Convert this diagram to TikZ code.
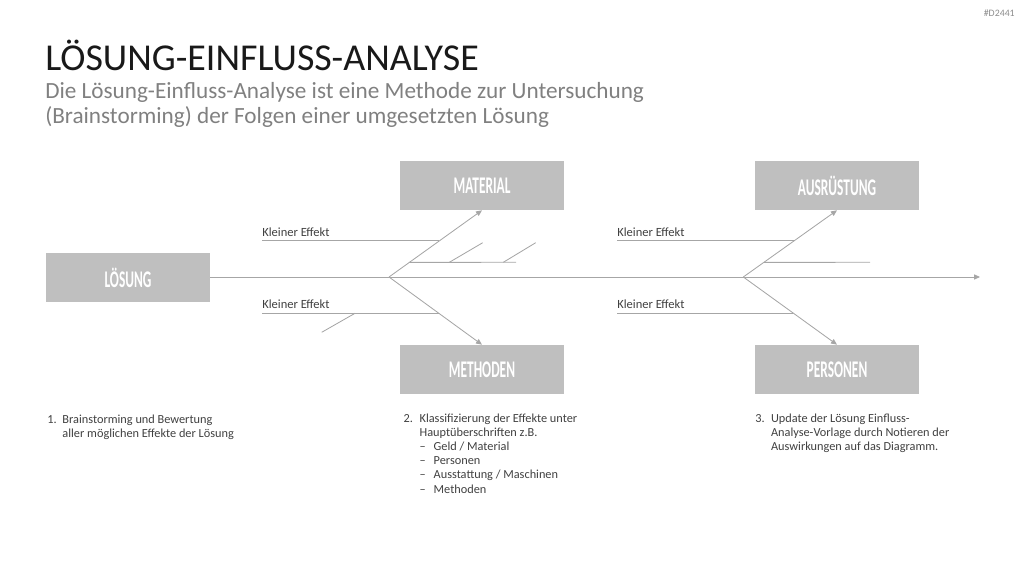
\documentclass[tikz,border=0pt]{standalone}
\usepackage{fontspec}
\setmainfont{Carlito}
\newfontfamily\boxfont[FakeStretch=0.56]{Carlito}
\usepackage{xcolor}
\definecolor{BoxGray}{HTML}{BFBFBF}
\definecolor{LineGray}{HTML}{A6A6A6}
\definecolor{SubGray}{HTML}{808080}
\definecolor{Ink}{HTML}{404040}
\usepackage{tikz}
\usetikzlibrary{arrows.meta}

\begin{document}
\begin{tikzpicture}[x=0.025cm,y=-0.025cm,
    >={Triangle[length=1.5mm,width=1.3mm]},
    box/.style={fill=BoxGray,minimum width=4.1cm,minimum height=1.225cm,inner sep=0pt,
                text=white,font=\boxfont\bfseries\fontsize{17}{17}\selectfont},
    bone/.style={LineGray,line width=0.6pt},   % all fish bones
    lbl/.style={font=\fontsize{8.9}{10}\selectfont,text=Ink,anchor=base west,inner sep=0pt},
    note/.style={font=\fontsize{8.75}{10}\selectfont,text=Ink,anchor=base west,inner sep=0pt},
  ]
  \def\ys{277}     % spine
  \def\yk{262.3}   % short side bones
  \useasboundingbox (0,0) rectangle (1024,576);

  % ---------- heading ----------
  \node[anchor=base east,inner sep=0pt,font=\fontsize{7}{8}\selectfont,text=black!45] (tag) at (1015,17) {\#D2441};
  \node[anchor=base west,inner sep=0pt,font=\fontsize{27}{30}\selectfont,text=black!90] (title) at (45,71) {LÖSUNG-EINFLUSS-ANALYSE};
  \node[anchor=base west,inner sep=0pt,font=\fontsize{16.5}{17.2}\selectfont,text=SubGray] (sub) at (45,99)
    {\begin{tabular}[t]{@{}l@{}}Die Lösung-Einfluss-Analyse ist eine Methode zur Untersuchung\\
     (Brainstorming) der Folgen einer umgesetzten Lösung\end{tabular}};

  % ---------- boxes ----------
  \node[box] (loes) at (128,277.5) {\raisebox{-2.2pt}{LÖSUNG}};
  \node[box] (mat)  at (482,185.5) {\raisebox{-2.2pt}{MATERIAL}};
  \node[box] (meth) at (482,369.5) {\raisebox{-2.2pt}{METHODEN}};
  \node[box] (aus)  at (837,185.5) {\raisebox{-2.2pt}{AUSRÜSTUNG}};
  \node[box] (pers) at (837,369.5) {\raisebox{-2.2pt}{PERSONEN}};

  % ---------- spine ----------
  \coordinate (j1)  at (389,\ys);
  \coordinate (j2)  at (743.3,\ys);
  \coordinate (end) at (980,\ys);
  \draw[bone,->] (loes.east |- j1) -- (end);

  % ---------- effect labels ----------
  \node[lbl] (e1) at (262,236.7) {Kleiner Effekt};
  \node[lbl] (e2) at (262,308.3) {Kleiner Effekt};
  \node[lbl] (e3) at (617,236.7) {Kleiner Effekt};
  \node[lbl] (e4) at (617,308.3) {Kleiner Effekt};

  % ---------- left bones ----------
  \draw[bone,->] (j1) -- coordinate[pos=0.219] (m1) coordinate[pos=0.542] (m2) (mat.south);
  \draw[bone,->] (j1) -- coordinate[pos=0.534] (n2) (meth.north);
  \draw[bone] (m2) -- (m2 -| e1.west);
  \draw[bone] (n2) -- (n2 -| e2.west);
  \coordinate (m3) at (516,\yk);
  \draw[bone] (m1) -- coordinate[pos=0.374] (s1) coordinate[pos=0.881] (s2) (m3);
  \draw[bone] (s1) -- ++(33.4,-19.6);
  \draw[bone] (s2) -- ++(32.4,-19.6);
  \coordinate (s3) at (355,313.3);
  \draw[bone] (s3) -- ++(-33.3,19);

  % ---------- right bones ----------
  \draw[bone,->] (j2) -- coordinate[pos=0.219] (a1) coordinate[pos=0.542] (a2) (aus.south);
  \draw[bone,->] (j2) -- coordinate[pos=0.534] (p2) (pers.north);
  \draw[bone] (a2) -- (a2 -| e3.west);
  \draw[bone] (p2) -- (p2 -| e4.west);
  \coordinate (a3) at (870,\yk);
  \draw[bone] (a1) -- (a3);

  % ---------- steps ----------
  \node[note] (step1) at (47,423.3)
    {\begin{tabular}[t]{@{}l@{}l@{}}\makebox[10.8pt][l]{1.} & Brainstorming und Bewertung\\
     & aller möglichen Effekte der Lösung\end{tabular}};
  \node[note] (step2) at (403.3,422.7)
    {\begin{tabular}[t]{@{}l@{}l@{}}\makebox[11.4pt][l]{2.} & Klassifizierung der Effekte unter\\
     & Hauptüberschriften z.B.\\
     & \makebox[10pt][l]{–}Geld / Material\\
     & \makebox[10pt][l]{–}Personen\\
     & \makebox[10pt][l]{–}Ausstattung / Maschinen\\
     & \makebox[10pt][l]{–}Methoden\end{tabular}};
  \node[note] (step3) at (755,422.7)
    {\begin{tabular}[t]{@{}l@{}l@{}}\makebox[11.2pt][l]{3.} & Update der Lösung Einfluss-\\
     & Analyse-Vorlage durch Notieren der\\
     & Auswirkungen auf das Diagramm.\end{tabular}};
\end{tikzpicture}
\end{document}
